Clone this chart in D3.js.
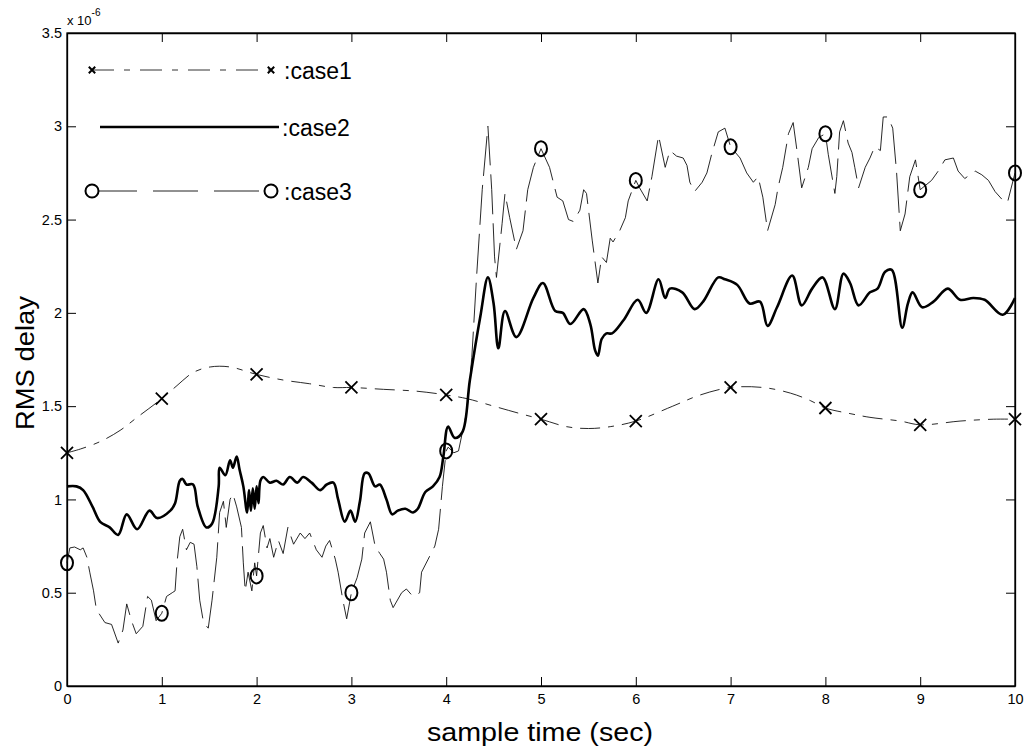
<!DOCTYPE html>
<html>
<head>
<meta charset="utf-8">
<script src="https://cdn.jsdelivr.net/npm/d3@7"></script>
<style>
  body { margin: 0; background: #fff; }
  text { font-family: "Liberation Sans", Arial, sans-serif; fill: #000; }
</style>
</head>
<body>
<svg id="chart" width="1028" height="750"></svg>
<script>
// values in units of 1e-6
const xTicks = [0, 1, 2, 3, 4, 5, 6, 7, 8, 9, 10];
const yTicks = [0, 0.5, 1, 1.5, 2, 2.5, 3, 3.5];

const case1X = [0, 0.14, 0.35, 0.56, 0.74, 1, 1.16, 1.33, 1.51, 1.72, 2, 2.28, 2.56, 2.81, 3,
  3.34, 3.69, 4, 4.22, 4.5, 4.78, 5, 5.27, 5.5, 5.73, 6, 6.39, 6.68, 7, 7.34, 7.63, 7.84, 8,
  8.26, 8.47, 8.79, 9, 9.42, 9.77, 10];
const case1Y = [1.25, 1.27, 1.31, 1.37, 1.44, 1.54, 1.61, 1.68, 1.71, 1.71, 1.67, 1.64, 1.62, 1.60, 1.60,
  1.59, 1.58, 1.56, 1.54, 1.50, 1.46, 1.43, 1.39, 1.38, 1.39, 1.42, 1.50, 1.56, 1.60, 1.60, 1.57, 1.53, 1.49,
  1.46, 1.44, 1.42, 1.40, 1.42, 1.43, 1.43];

const case2X = [0, 0.1, 0.17, 0.27, 0.35, 0.45, 0.54, 0.63, 0.74, 0.87, 0.95, 1.09, 1.14, 1.19, 1.22,
  1.26, 1.33, 1.38, 1.47, 1.53, 1.6, 1.61, 1.67, 1.72, 1.75, 1.79, 1.82, 1.86, 1.9, 1.92, 1.94, 1.96,
  1.98, 2, 2.02, 2.04, 2.07, 2.14, 2.21, 2.28, 2.35, 2.43, 2.49, 2.58, 2.67, 2.74, 2.81, 2.86, 2.93,
  2.99, 3.04, 3.09, 3.14, 3.18, 3.25, 3.3, 3.37, 3.43, 3.49, 3.57, 3.65, 3.7, 3.78, 3.86, 3.93, 3.97,
  4.02, 4.09, 4.17, 4.25, 4.36, 4.44, 4.5, 4.55, 4.62, 4.74, 4.92, 5.02, 5.15, 5.23, 5.31, 5.45, 5.52,
  5.57, 5.6, 5.64, 5.69, 5.75, 5.87, 6.02, 6.11, 6.24, 6.31, 6.36, 6.49, 6.62, 6.71, 6.87, 6.94, 7.07,
  7.2, 7.31, 7.39, 7.49, 7.65, 7.75, 7.86, 7.97, 8.1, 8.19, 8.26, 8.35, 8.47, 8.55, 8.63, 8.7, 8.81,
  8.87, 8.92, 9.02, 9.14, 9.29, 9.42, 9.56, 9.68, 9.87, 10];
const case2Y = [1.07, 1.07, 1.05, 0.96, 0.88, 0.85, 0.81, 0.92, 0.84, 0.94, 0.90, 0.94, 0.98, 1.10, 1.11,
  1.08, 1.08, 0.96, 0.85, 0.87, 1.07, 1.17, 1.13, 1.21, 1.17, 1.23, 1.16, 1.07, 0.93, 1.05, 0.94, 1.06,
  0.95, 1.07, 0.98, 1.10, 1.12, 1.09, 1.10, 1.08, 1.12, 1.09, 1.12, 1.09, 1.05, 1.08, 1.09, 1.00, 0.88,
  0.94, 0.88, 0.99, 1.14, 1.14, 1.07, 1.08, 1.00, 0.92, 0.94, 0.95, 0.93, 0.95, 1.04, 1.07, 1.12, 1.23,
  1.39, 1.33, 1.36, 1.64, 1.98, 2.19, 2.05, 1.81, 2.01, 1.87, 2.08, 2.16, 2.01, 2.00, 1.94, 2.02, 1.94,
  1.80, 1.77, 1.86, 1.89, 1.89, 1.96, 2.07, 2.00, 2.18, 2.08, 2.13, 2.11, 2.02, 2.06, 2.19, 2.18, 2.15,
  2.05, 2.06, 1.93, 2.03, 2.20, 2.04, 2.13, 2.19, 2.02, 2.21, 2.16, 2.04, 2.11, 2.13, 2.22, 2.23, 1.92,
  2.05, 2.11, 2.03, 2.06, 2.13, 2.07, 2.08, 2.07, 1.99, 2.08];

const case3X = [0, 0.03, 0.08, 0.14, 0.17, 0.21, 0.24, 0.28, 0.31, 0.4, 0.47, 0.54, 0.59, 0.63, 0.68,
  0.73, 0.8, 0.85, 0.89, 0.94, 1, 1.05, 1.11, 1.14, 1.16, 1.19, 1.22, 1.26, 1.3, 1.34, 1.37, 1.4, 1.44,
  1.49, 1.53, 1.58, 1.61, 1.65, 1.68, 1.72, 1.75, 1.79, 1.84, 1.86, 1.88, 1.91, 1.95, 1.98, 2, 2.04,
  2.07, 2.11, 2.14, 2.18, 2.23, 2.28, 2.33, 2.39, 2.46, 2.51, 2.56, 2.63, 2.69, 2.73, 2.77, 2.83, 2.86,
  2.91, 2.95, 3, 3.06, 3.11, 3.14, 3.2, 3.25, 3.3, 3.34, 3.37, 3.41, 3.44, 3.53, 3.58, 3.65, 3.72, 3.74,
  3.81, 3.88, 3.92, 3.96, 4, 4.02, 4.08, 4.13, 4.22, 4.27, 4.32, 4.38, 4.44, 4.48, 4.51, 4.53, 4.59,
  4.62, 4.67, 4.74, 4.81, 4.86, 4.92, 5, 5.09, 5.17, 5.23, 5.29, 5.34, 5.41, 5.45, 5.48, 5.54, 5.6,
  5.64, 5.69, 5.73, 5.76, 5.83, 5.89, 5.92, 6, 6.04, 6.12, 6.17, 6.24, 6.31, 6.36, 6.43, 6.5, 6.54,
  6.57, 6.62, 6.7, 6.75, 6.8, 6.87, 6.94, 7, 7.1, 7.17, 7.24, 7.29, 7.34, 7.39, 7.47, 7.5, 7.55, 7.61,
  7.66, 7.7, 7.75, 7.82, 7.86, 7.93, 8, 8.03, 8.1, 8.12, 8.15, 8.19, 8.24, 8.28, 8.31, 8.35, 8.42,
  8.47, 8.52, 8.58, 8.61, 8.66, 8.71, 8.75, 8.79, 8.84, 8.89, 8.95, 9, 9.12, 9.19, 9.26, 9.35, 9.4,
  9.47, 9.58, 9.65, 9.72, 9.79, 9.86, 9.92, 10];
const case3Y = [0.66, 0.74, 0.745, 0.73, 0.74, 0.69, 0.61, 0.51, 0.41, 0.34, 0.33, 0.23, 0.30, 0.44, 0.35,
  0.28, 0.32, 0.48, 0.46, 0.35, 0.39, 0.48, 0.50, 0.51, 0.66, 0.80, 0.84, 0.73, 0.77, 0.76, 0.64, 0.46, 0.34,
  0.31, 0.46, 0.69, 0.93, 0.99, 0.85, 1.00, 1.03, 0.96, 0.85, 0.66, 0.51, 0.61, 0.51, 0.66, 0.59, 0.82,
  0.86, 0.74, 0.79, 0.69, 0.78, 0.71, 0.85, 0.76, 0.82, 0.79, 0.82, 0.73, 0.69, 0.75, 0.78, 0.68, 0.61,
  0.46, 0.36, 0.50, 0.58, 0.68, 0.82, 0.88, 0.75, 0.71, 0.68, 0.61, 0.46, 0.42, 0.50, 0.52, 0.48, 0.50, 0.61,
  0.68, 0.75, 0.84, 1.07, 1.26, 1.28, 1.25, 1.26, 1.48, 1.76, 2.19, 2.66, 3.00, 2.66, 2.30, 2.19, 2.48,
  2.64, 2.51, 2.34, 2.44, 2.66, 2.78, 2.88, 2.78, 2.62, 2.60, 2.50, 2.49, 2.55, 2.66, 2.64, 2.39, 2.16,
  2.30, 2.27, 2.40, 2.38, 2.44, 2.51, 2.60, 2.71, 2.67, 2.60, 2.73, 2.95, 2.78, 2.87, 2.84, 2.83, 2.79,
  2.70, 2.65, 2.70, 2.75, 2.85, 2.97, 2.99, 2.89, 2.83, 2.75, 2.70, 2.73, 2.62, 2.44, 2.58, 2.67, 2.78, 2.96,
  3.02, 2.87, 2.67, 2.78, 2.88, 2.94, 2.96, 2.85, 2.64, 2.73, 2.97, 3.03, 2.91, 2.86, 2.78, 2.67, 2.78,
  2.83, 2.89, 2.87, 3.05, 3.05, 2.99, 2.76, 2.44, 2.53, 2.73, 2.82, 2.66, 2.71, 2.76, 2.82, 2.83, 2.76,
  2.72, 2.76, 2.74, 2.71, 2.65, 2.61, 2.59, 2.75];

// markers drawn at whole seconds
const markX = [0, 1, 2, 3, 4, 5, 6, 7, 8, 9, 10];
const case1Marks = [1.25, 1.54, 1.67, 1.60, 1.56, 1.43, 1.42, 1.60, 1.49, 1.40, 1.43];
const case3Marks = [0.66, 0.39, 0.59, 0.50, 1.26, 2.88, 2.71, 2.89, 2.96, 2.66, 2.75];

const legendNames = [":case1", ":case2", ":case3"];

const svg = d3.select("#chart");
const plotL = 67, plotR = 1015, plotT = 33, plotB = 686;

const x = d3.scaleLinear().domain([0, 10]).range([plotL, plotR]);
const y = d3.scaleLinear().domain([0, 3.5]).range([plotB, plotT]);

function zip(xs, ys) {
    return xs.map((v, i) => [v, ys[i]]);
}

const line = d3.line().x(d => x(d[0])).y(d => y(d[1]));
// smooth version for the two filtered curves
const smooth = d3.line().x(d => x(d[0])).y(d => y(d[1])).curve(d3.curveCatmullRom.alpha(0.5));

// axes, ticks pointing inward like matlab
const fmt = d => String(d);
svg.append("g").attr("class", "ax").attr("transform", "translate(0," + plotB + ")")
    .call(d3.axisBottom(x).tickValues(xTicks).tickFormat(fmt).tickSizeInner(-9).tickSizeOuter(0).tickPadding(8));
svg.append("g").attr("class", "ax").attr("transform", "translate(" + plotL + ",0)")
    .call(d3.axisLeft(y).tickValues(yTicks).tickFormat(fmt).tickSizeInner(-9).tickSizeOuter(0).tickPadding(5));
svg.append("g").attr("class", "ax").attr("transform", "translate(0," + plotT + ")")
    .call(d3.axisTop(x).tickValues(xTicks).tickFormat("").tickSizeInner(-9).tickSizeOuter(0));
svg.append("g").attr("class", "ax").attr("transform", "translate(" + plotR + ",0)")
    .call(d3.axisRight(y).tickValues(yTicks).tickFormat("").tickSizeInner(-9).tickSizeOuter(0));

svg.selectAll(".ax text").style("font-size", "14.5px").style("font-family", "'Liberation Sans', Arial, sans-serif");
svg.selectAll(".ax line").attr("stroke", "#000").attr("stroke-width", 1);
svg.selectAll(".ax .domain").attr("stroke", "#000").attr("stroke-width", 1.3);

// box
svg.append("rect").attr("x", plotL).attr("y", plotT).attr("width", plotR - plotL).attr("height", plotB - plotT)
    .attr("fill", "none").attr("stroke", "#000").attr("stroke-width", 1.3);

// series
svg.append("path").datum(zip(case3X, case3Y)).attr("d", line)
    .attr("fill", "none").attr("stroke", "#111").attr("stroke-width", 0.9).attr("stroke-dasharray", "40,9");
svg.append("path").datum(zip(case1X, case1Y)).attr("d", smooth)
    .attr("fill", "none").attr("stroke", "#111").attr("stroke-width", 0.9).attr("stroke-dasharray", "20,8,6,8");
svg.append("path").datum(zip(case2X, case2Y)).attr("d", smooth)
    .attr("fill", "none").attr("stroke", "#000").attr("stroke-width", 2.6).attr("stroke-linejoin", "round");

function crossPath(cx, cy, r) {
    return "M" + (cx - r) + "," + (cy - r) + "L" + (cx + r) + "," + (cy + r) +
        "M" + (cx - r) + "," + (cy + r) + "L" + (cx + r) + "," + (cy - r);
}

svg.append("g").selectAll("path").data(zip(markX, case1Marks)).join("path")
    .attr("d", d => crossPath(x(d[0]), y(d[1]), 6))
    .attr("stroke", "#000").attr("stroke-width", 1.8).attr("fill", "none");

svg.append("g").selectAll("ellipse").data(zip(markX, case3Marks)).join("ellipse")
    .attr("cx", d => x(d[0])).attr("cy", d => y(d[1]))
    .attr("rx", 6).attr("ry", 7.5)
    .attr("stroke", "#000").attr("stroke-width", 2).attr("fill", "none");

// legend drawn inside the axes
const lg = svg.append("g");
lg.append("line").attr("x1", 92).attr("x2", 271).attr("y1", 70).attr("y2", 70)
    .attr("stroke", "#333").attr("stroke-width", 1).attr("stroke-dasharray", "22,10,6,10");
[92, 271].forEach(px => {
    lg.append("path").attr("d", crossPath(px, 70, 3.2)).attr("stroke", "#000").attr("stroke-width", 2);
});
lg.append("line").attr("x1", 100).attr("x2", 279).attr("y1", 127).attr("y2", 127)
    .attr("stroke", "#000").attr("stroke-width", 2.6);
lg.append("line").attr("x1", 92).attr("x2", 271).attr("y1", 191).attr("y2", 191)
    .attr("stroke", "#222").attr("stroke-width", 1).attr("stroke-dasharray", "45,16");
[92, 271].forEach(px => {
    lg.append("circle").attr("cx", px).attr("cy", 191).attr("r", 6.5)
        .attr("stroke", "#000").attr("stroke-width", 2).attr("fill", "#fff");
});
lg.selectAll("text").data(legendNames).join("text")
    .attr("x", (d, i) => [284, 282, 284][i])
    .attr("y", (d, i) => [79, 136, 200][i])
    .style("font-size", "23px")
    .text(d => d);

// exponent label
const ex = svg.append("text").attr("x", 67).attr("y", 25).style("font-size", "13px");
ex.append("tspan").text("x 10");
ex.append("tspan").attr("dy", -9).style("font-size", "10px").text("-6");

// axis titles (reference glyphs are a bit wider than plain Arial)
svg.append("text").attr("x", 427).attr("y", 741)
    .attr("textLength", 226).attr("lengthAdjust", "spacingAndGlyphs")
    .style("font-size", "25px").text("sample time (sec)");
svg.append("text").attr("transform", "translate(34,430) rotate(-90)")
    .attr("textLength", 134).attr("lengthAdjust", "spacingAndGlyphs")
    .style("font-size", "26px").text("RMS delay");
</script>
</body>
</html>
